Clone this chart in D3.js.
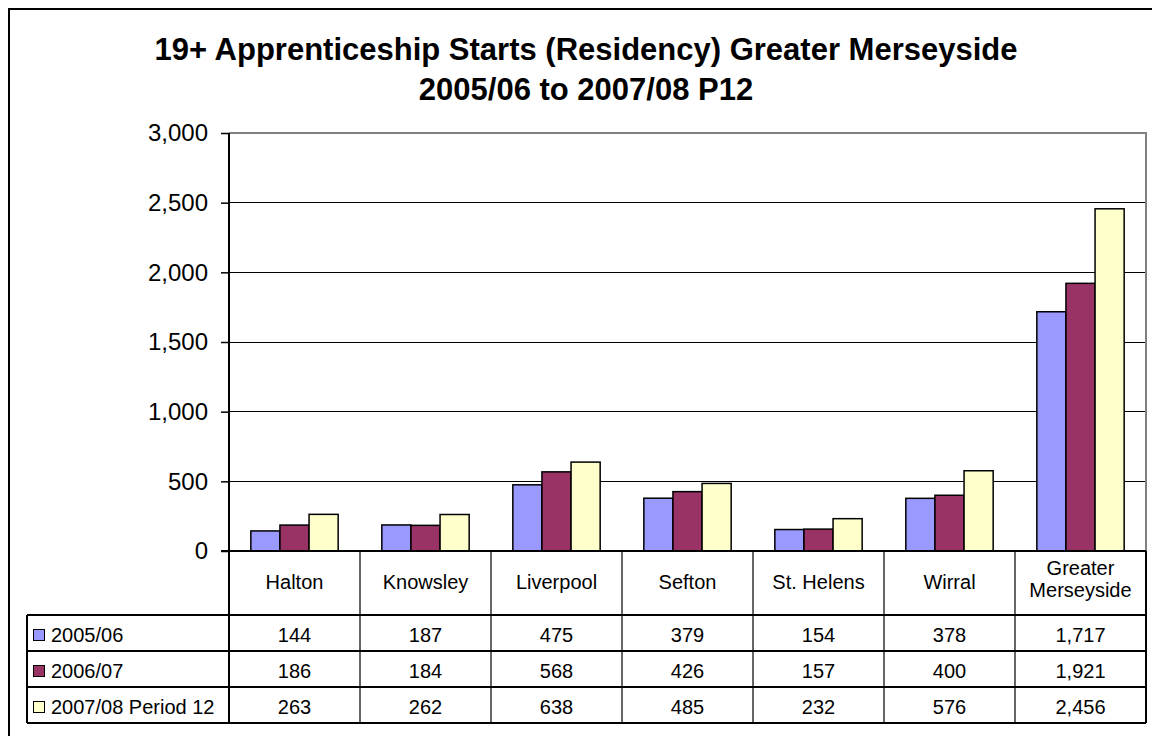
<!DOCTYPE html>
<html>
<head>
<meta charset="utf-8">
<script src="https://cdn.jsdelivr.net/npm/d3@7"></script>
<style>
  body { margin: 0; background: #fff; }
  svg { display: block; font-family: "Liberation Sans", Arial, sans-serif; }
</style>
</head>
<body>
<svg id="chart" width="1152" height="736"></svg>
<script>
// data
const categories = ["Halton", "Knowsley", "Liverpool", "Sefton", "St. Helens", "Wirral", "Greater Merseyside"];
const seriesNames = ["2005/06", "2006/07", "2007/08 Period 12"];
const starts0506 = [144, 187, 475, 379, 154, 378, 1717];
const starts0607 = [186, 184, 568, 426, 157, 400, 1921];
const starts0708 = [263, 262, 638, 485, 232, 576, 2456];
const yTicks = [0, 500, 1000, 1500, 2000, 2500, 3000];

const seriesValues = [starts0506, starts0607, starts0708];
const colors = ["#9999FF", "#993366", "#FFFFCC"];

const svg = d3.select("#chart");
const W = 1152, H = 736;

// outer frame (runs off right/bottom edge)
svg.append("rect")
  .attr("x", 9).attr("y", 9)
  .attr("width", W + 10).attr("height", H + 10)
  .attr("fill", "none").attr("stroke", "#000").attr("stroke-width", 2);

// title
const title = svg.append("text")
  .attr("text-anchor", "middle")
  .attr("font-weight", "bold").attr("font-size", 31);
title.append("tspan").attr("x", 586).attr("y", 60)
  .text("19+ Apprenticeship Starts (Residency) Greater Merseyside");
title.append("tspan").attr("x", 586).attr("y", 100)
  .text("2005/06 to 2007/08 P12");

const plot = { left: 229, right: 1146, top: 133, bottom: 551 };

const x = d3.scaleBand().domain(categories).range([plot.left, plot.right]);
const xs = d3.scaleBand().domain(seriesNames).range([0, x.bandwidth()]).paddingOuter(0.75);
const y = d3.scaleLinear().domain([0, 3000]).range([plot.bottom, plot.top]);

// gridlines
svg.append("g")
  .selectAll("line")
  .data(yTicks.filter(d => d > 0 && d < 3000))
  .join("line")
  .attr("x1", plot.left).attr("x2", plot.right)
  .attr("y1", d => y(d)).attr("y2", d => y(d))
  .attr("stroke", "#000").attr("stroke-width", 1)
  .attr("shape-rendering", "crispEdges");

// plot area border (top/right gray)
svg.append("path")
  .attr("d", `M${plot.left},${y(3000)}H${plot.right}V${plot.bottom}`)
  .attr("fill", "none").attr("stroke", "#808080").attr("stroke-width", 2)
  .attr("shape-rendering", "crispEdges");

// bars
const groups = svg.append("g")
  .selectAll("g")
  .data(seriesNames)
  .join("g")
  .attr("fill", (d, i) => colors[i]);

groups.selectAll("rect")
  .data((s, i) => categories.map((c, j) => ({ c, s, v: seriesValues[i][j] })))
  .join("rect")
  .attr("x", d => x(d.c) + xs(d.s))
  .attr("y", d => y(d.v))
  .attr("width", xs.bandwidth())
  .attr("height", d => y(0) - y(d.v))
  .attr("stroke", "#000").attr("stroke-width", 1.5);

// y axis
const yAxis = d3.axisLeft(y)
  .tickValues(yTicks)
  .tickSize(8)
  .tickPadding(13)
  .tickFormat(d3.format(","));
const ya = svg.append("g")
  .attr("transform", `translate(${plot.left},0)`)
  .call(yAxis);
ya.select(".domain").remove();
ya.selectAll("line").attr("stroke", "#000").attr("stroke-width", 1.5);
ya.selectAll("text").attr("font-size", 24).attr("fill", "#000")
  .attr("font-family", "Liberation Sans, Arial, sans-serif");

// data table
const rowTop = 615, rowH = 36, tableLeft = 27;
const rowY = d3.scaleBand().domain(seriesNames)
  .range([rowTop, rowTop + rowH * seriesNames.length]);
const tableBottom = rowY.range()[1];

const table = svg.append("g")
  .attr("stroke", "#000").attr("stroke-width", 1.2)
  .attr("shape-rendering", "crispEdges");

// vertical lines at category boundaries
const bounds = categories.map(c => x(c)).concat([plot.right]);
table.selectAll("line.v")
  .data(bounds)
  .join("line")
  .attr("class", "v")
  .attr("x1", d => d).attr("x2", d => d)
  .attr("y1", plot.bottom).attr("y2", tableBottom)
  .attr("stroke", (d, i) => (i === 0 || i === bounds.length - 1) ? "#000" : "#666");

// horizontal row lines
table.selectAll("line.h")
  .data(seriesNames.map(s => rowY(s)).concat([tableBottom]))
  .join("line")
  .attr("class", "h")
  .attr("x1", tableLeft).attr("x2", plot.right)
  .attr("y1", d => d).attr("y2", d => d);

table.append("line")
  .attr("x1", tableLeft).attr("x2", tableLeft)
  .attr("y1", rowTop).attr("y2", tableBottom);

// x axis line (0)
svg.append("line")
  .attr("x1", plot.left - 8).attr("x2", plot.right)
  .attr("y1", plot.bottom).attr("y2", plot.bottom)
  .attr("stroke", "#000").attr("stroke-width", 2)
  .attr("shape-rendering", "crispEdges");
// y axis line
svg.append("line")
  .attr("x1", plot.left).attr("x2", plot.left)
  .attr("y1", plot.top).attr("y2", tableBottom)
  .attr("stroke", "#000").attr("stroke-width", 1.5)
  .attr("shape-rendering", "crispEdges");

// header labels
const header = svg.append("g").attr("font-size", 20).attr("text-anchor", "middle");
header.selectAll("text")
  .data(categories)
  .join("text")
  .each(function (d) {
    const words = d === "Greater Merseyside" ? ["Greater", "Merseyside"] : [d];
    const t = d3.select(this);
    const midY = (plot.bottom + rowTop) / 2 + 6;
    words.forEach((w, k) => {
      t.append("tspan")
        .attr("x", x(d) + x.bandwidth() / 2)
        .attr("y", midY - (words.length - 1) * 3 + (k - (words.length - 1) / 2) * 22)
        .text(w);
    });
  });

// row legend keys and labels
const rows = svg.append("g").attr("font-size", 20);
seriesNames.forEach((s, i) => {
  const cy = rowY(s) + rowY.bandwidth() / 2;
  rows.append("rect")
    .attr("x", 33.5).attr("y", cy - 3.5)
    .attr("width", 11).attr("height", 11)
    .attr("fill", colors[i]).attr("stroke", "#000").attr("stroke-width", 1);
  rows.append("text")
    .attr("x", 51).attr("y", cy + 9)
    .text(s);
  rows.selectAll(null)
    .data(seriesValues[i])
    .join("text")
    .attr("x", (v, j) => x(categories[j]) + x.bandwidth() / 2)
    .attr("y", cy + 9)
    .attr("text-anchor", "middle")
    .text(v => d3.format(",")(v));
});
</script>
</body>
</html>
